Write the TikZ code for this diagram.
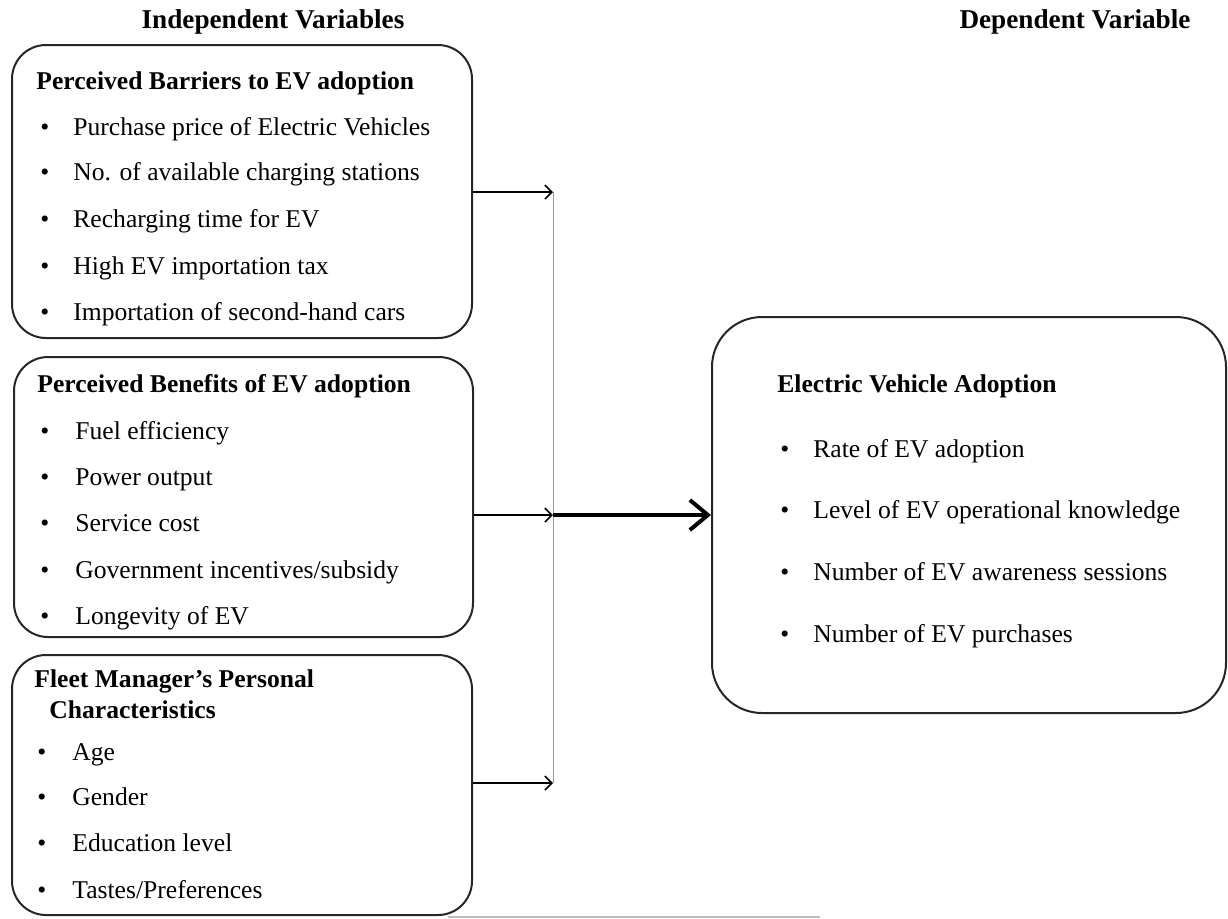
\documentclass[tikz,border=0pt]{standalone}
\usepackage{fontspec}
\setmainfont{Liberation Serif}
\usetikzlibrary{positioning,arrows.meta,calc}
\newcommand{\bodysize}{\fontsize{12.8}{15}\selectfont}
\newcommand{\headsize}{\fontsize{13.6}{16}\selectfont}
\colorlet{framegray}{black!85}
\colorlet{railgray}{black!40}
\tikzset{
  varbox/.style={draw=framegray, line width=1pt, rounded corners=17pt, inner sep=0pt},
  bigbox/.style={varbox, rounded corners=25pt},
  headline/.style={font=\headsize\bfseries, inner sep=0pt},
  boxtitle/.style={font=\bodysize\bfseries, anchor=base west, inner sep=0pt},
  item/.style={font=\bodysize, anchor=base west, inner sep=0pt},
  dot/.style={font=\bodysize, anchor=base west, inner sep=0pt},
  feed/.style={-{Straight Barb[length=3.5pt, width=7pt]}, line width=0.8pt, draw=black},
  rail/.style={line width=0.5pt, draw=railgray},
  mainflow/.style={-{Straight Barb[length=9pt, width=15pt, line width=2pt]}, line width=2.2pt, draw=black},
}

\begin{document}
\begin{tikzpicture}[x=0.5pt,y=-0.5pt]
\useasboundingbox (0,0) rectangle (1228,918);
% column headings
\node[headline] (indep) at (273,22) {Independent Variables};
\node[headline] (dep) at (1075,22) {Dependent Variable};
% the three independent boxes
\node[varbox, minimum width=230pt, minimum height=146.5pt] (barriers) at (242,191.5) {};
\node[varbox, minimum width=229.5pt, minimum height=140pt] (benefits) at (243.5,497) {};
\node[varbox, minimum width=230pt, minimum height=130pt] (fleet) at (242,785) {};
% dependent box
\node[bigbox, minimum width=257pt, minimum height=198pt] (adoption) at (969,515) {};
% barriers text
\node[boxtitle] (bartitle) at (36,89) {Perceived Barriers to EV adoption};
\foreach \y/\t in {135/{Purchase price of Electric Vehicles},180/{No. of available charging stations},
    227/{Recharging time for EV},274/{High EV importation tax},320/{Importation of second-hand cars}}{
  \node[dot] at (40,\y) {•};
  \node[item] at (73,\y) {\t};
}
% benefits text
\node[boxtitle] (bentitle) at (37,392) {Perceived Benefits of EV adoption};
\foreach \y/\t in {439/{Fuel efficiency},485/{Power output},531/{Service cost},
    578/{Government incentives/subsidy},624/{Longevity of EV}}{
  \node[dot] at (40,\y) {•};
  \node[item] at (75,\y) {\t};
}
% fleet manager text
\node[boxtitle] (fleettitle) at (34,687) {Fleet Manager’s Personal};
\node[boxtitle] (fleettitleb) at (49,718) {Characteristics};
\foreach \y/\t in {760/{Age},805/{Gender},851/{Education level},898/{Tastes/Preferences}}{
  \node[dot] at (37,\y) {•};
  \node[item] at (72,\y) {\t};
}
% adoption text
\node[boxtitle] (adtitle) at (777,392) {Electric Vehicle Adoption};
\foreach \y/\t in {457/{Rate of EV adoption},518/{Level of EV operational knowledge},
    580/{Number of EV awareness sessions},642/{Number of EV purchases}}{
  \node[dot] at (780,\y) {•};
  \node[item] at (813,\y) {\t};
}
% connectors
\coordinate (j1) at (553,192);
\coordinate (j2) at (553,515);
\coordinate (j3) at (553,783);
\draw[rail] (j1) -- (j3);
\draw[feed] (barriers.east |- j1) -- (j1);
\draw[feed] (benefits.east |- j2) -- (j2);
\draw[feed] (fleet.east |- j3) -- (j3);
\draw[mainflow] (j2) -- (adoption.west);
% stray rule at the foot
\coordinate (f1) at (448,917);
\coordinate (f2) at (820,917);
\draw[line width=0.6pt, draw=black!25] (f1) -- (f2);
\end{tikzpicture}
\end{document}
